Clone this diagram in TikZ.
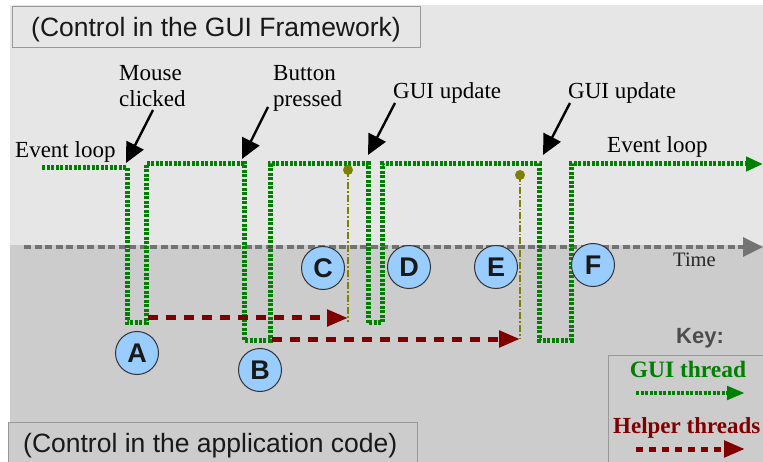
\documentclass[tikz,border=0pt]{standalone}
\usepackage{fontspec}
\setmainfont{Liberation Serif}
\setsansfont{Liberation Sans}
\usetikzlibrary{arrows.meta}
\definecolor{bgtop}{HTML}{E6E6E6}
\definecolor{bgbot}{HTML}{CCCCCC}
\definecolor{gthread}{HTML}{008000}
\definecolor{hthread}{HTML}{800000}
\definecolor{oliv}{HTML}{808000}
\definecolor{circfill}{HTML}{99CCFF}
\definecolor{boxline}{HTML}{999999}
\tikzset{
  guiline/.style={gthread, line width=5pt, dash pattern=on 3pt off 1.5pt},
  guitip/.style={-{Triangle[length=17pt,width=14pt]}},
  helperline/.style={hthread, line width=5pt, dash pattern=on 10pt off 8pt, -{Triangle[length=21pt,width=16pt]}},
  updline/.style={oliv, line width=2.6pt, dash pattern=on 7pt off 2pt on 1.5pt off 2pt},
  upddot/.style={circle, fill=oliv, inner sep=0pt, minimum size=10pt},
  callout/.style={black, line width=2.4pt, -{Triangle[length=20pt,width=19pt]}},
  lbl/.style={font=\fontsize{23}{26}\selectfont, inner sep=0pt, text=black},
  stage/.style={circle, draw=black!80, line width=1pt, fill=circfill, minimum size=43pt, inner sep=0pt, font=\sffamily\bfseries\fontsize{27}{27}\selectfont, text=black!90},
  regionbox/.style={draw=boxline, line width=1pt, inner sep=0pt, font=\sffamily\fontsize{26.5}{28}\selectfont, text=black!90},
}
\begin{document}
\begin{tikzpicture}[x=1pt,y=-1pt]
\clip (0,0) rectangle (763,462);
\fill[white] (0,0) rectangle (763,462);
\fill[bgtop] (10,5) rectangle (763,245);
\fill[bgbot] (10,245) rectangle (763,462);

% region boxes
\node[regionbox, fill=bgtop, minimum width=408pt, minimum height=41pt, text height=20pt, text depth=1pt] (top) at (216,27.5) {(Control in the GUI Framework)};
\node[regionbox, fill=bgbot, anchor=north west, minimum width=409pt, minimum height=60pt] (botbox) at (8,422) {};
\node[font=\sffamily\fontsize{26.5}{28}\selectfont, inner sep=0pt, anchor=base west, text=black!90] (bot) at (23,452) {(Control in the application code)};

% time axis
\coordinate (t0) at (24,247);
\coordinate (t1) at (763,247);
\draw[black!55, line width=3.2pt, dash pattern=on 7pt off 3.5pt, -{Triangle[length=20pt,width=19pt]}] (t0) -- (t1);
\node[font=\fontsize{20.5}{22}\selectfont, inner sep=0pt, anchor=base west, text=black!85] (time) at (673,267) {Time};

% GUI thread path
\coordinate (g0) at (42,168);
\coordinate (gA) at (127,168);
\coordinate (gEnd) at (763,164);
\draw[guiline] (g0) -- (gA) -- (127,323) -- (146,323) -- (146,164) -- (244,164) -- (244,340) -- (270,340) -- (270,164)
  -- (368,164) -- (368,323) -- (382,323) -- (382,164) -- (539,164) -- (539,340) -- (571,340) -- (571,164) -- (747,164);
\draw[guiline, guitip] (746,164) -- (gEnd);

% update lines
\node[upddot] (u1) at (348,170) {};
\coordinate (u1b) at (348,322);
\draw[updline] (u1.center) -- (u1b);
\node[upddot] (u2) at (520,175) {};
\coordinate (u2b) at (520,339);
\draw[updline] (u2.center) -- (u2b);

% helper threads
\coordinate (h1) at (148,318);
\coordinate (h2) at (272,339);
\draw[helperline] (h1) -- (u1b |- h1);
\draw[helperline] (h2) -- (u2b |- h2);

% stage circles
\node[stage] (A) at (137,353) {A};
\node[stage] (B) at (260,370) {B};
\node[stage] (C) at (323,268) {C};
\node[stage] (D) at (409,267) {D};
\node[stage] (E) at (496,267) {E};
\node[stage] (F) at (593,265) {F};

% labels
\node[lbl, anchor=base west] (evl) at (15,158) {Event loop};
\node[lbl, anchor=base west] (evr) at (607,153) {Event loop};
\node[lbl, anchor=north west, align=left] (mouse) at (119,64.8) {Mouse\\clicked};
\node[lbl, anchor=north west, align=left] (button) at (273,64.8) {Button\\pressed};
\node[lbl, anchor=base west] (upd1) at (393,99) {GUI update};
\node[lbl, anchor=base west] (upd2) at (568,99) {GUI update};

% callouts
\coordinate (c1) at (126,163);
\coordinate (c2) at (242,159);
\coordinate (c3) at (368,155);
\coordinate (c4) at (543,155);
\draw[callout] (153,110) -- (c1);
\draw[callout] (268,107) -- (c2);
\draw[callout] (395,103) -- (c3);
\draw[callout] (570,103) -- (c4);

% key
\node[font=\sffamily\bfseries\fontsize{22}{22}\selectfont, text=black!70, inner sep=0pt, anchor=base] (key) at (700,343) {Key:};
\draw[draw=boxline, line width=1pt, fill=bgbot] (608,355) rectangle (790,480);
\node[font=\bfseries\fontsize{23.5}{24}\selectfont, text=gthread, inner sep=0pt, anchor=base] (kg) at (688,377) {GUI thread};
\coordinate (kg0) at (636,393);
\coordinate (kg1) at (745,393);
\draw[gthread, line width=4.5pt, dash pattern=on 3pt off 1.5pt, -{Triangle[length=18pt,width=13pt]}] (kg0) -- (kg1);
\node[font=\bfseries\fontsize{23}{24}\selectfont, text=hthread, inner sep=0pt, anchor=base west] (kh) at (613,433) {Helper threads};
\coordinate (kh0) at (636,449);
\coordinate (kh1) at (745,449);
\draw[hthread, line width=5pt, dash pattern=on 7pt off 6pt, -{Triangle[length=21pt,width=16pt]}] (kh0) -- (kh1);
\end{tikzpicture}
\end{document}
